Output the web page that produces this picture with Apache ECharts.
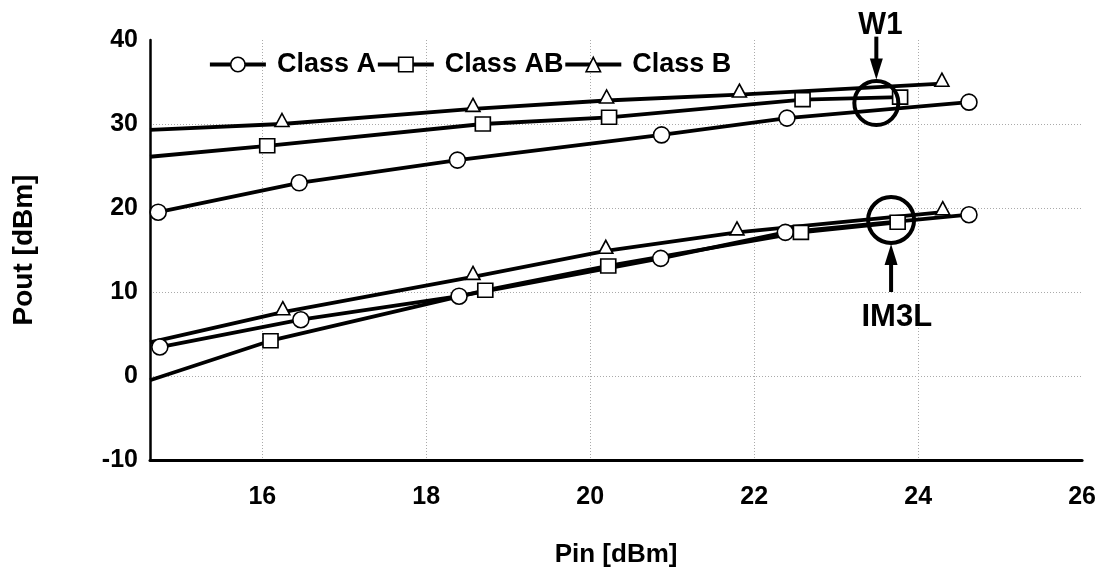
<!DOCTYPE html>
<html>
<head>
<meta charset="utf-8">
<script src="https://cdn.jsdelivr.net/npm/echarts@6/dist/echarts.min.js"></script>
<style>
html,body{margin:0;padding:0;background:#fff;}
#chart{width:1099px;height:573px;}
</style>
</head>
<body>
<div id="chart"></div>
<script>
// ---- data ----
var seriesNames = ['Class A', 'Class AB', 'Class B'];
var xTicks = [16, 18, 20, 22, 24, 26];
var yTicks = [-10, 0, 10, 20, 30, 40];
var xMin = 14.63, xMax = 26, yMin = -10, yMax = 40;

// upper curves (W1)
var pinA_W1  = [14.73, 16.45, 18.38, 20.87, 22.40, 24.62];
var poutA_W1 = [19.5, 23.0, 25.7, 28.7, 30.7, 32.6];
var pinAB_W1  = [14.63, 16.06, 18.69, 20.23, 22.59, 23.78];
var poutAB_W1 = [26.1, 27.4, 30.0, 30.8, 32.9, 33.2];
var pinB_W1  = [14.63, 16.24, 18.57, 20.20, 21.82, 24.29];
var poutB_W1 = [29.3, 30.0, 31.8, 32.8, 33.5, 34.8];

// lower curves (IM3L)
var pinA_IM  = [14.75, 16.47, 18.40, 20.86, 22.38, 24.62];
var poutA_IM = [3.45, 6.7, 9.5, 14.0, 17.1, 19.2];
var pinAB_IM  = [14.63, 16.10, 18.72, 20.22, 22.57, 23.75];
var poutAB_IM = [-0.5, 4.2, 10.2, 13.1, 17.1, 18.3];
var pinB_IM  = [14.63, 16.25, 18.57, 20.19, 21.79, 24.30];
var poutB_IM = [4.0, 7.6, 11.8, 14.9, 17.1, 19.5];

// points drawn without a marker (line start at axis edge)
var noMarker = { 'AB_W1': [0], 'B_W1': [0], 'AB_IM': [0], 'B_IM': [0] };

// annotations (data coordinates)
var w1Circle = [23.49, 32.5];
var w1Label = [23.54, 41.8];
var w1Arrow = [[23.49, 40.4], [23.49, 35.3]];
var imCircle = [23.67, 18.57];
var imLabel = [23.74, 7.0];
var imArrow = [[23.67, 10.0], [23.67, 15.7]];

function pts(xs, ys, key) {
  var skip = noMarker[key] || [];
  return xs.map(function (x, i) {
    var item = { value: [x, ys[i]] };
    if (skip.indexOf(i) >= 0) item.symbol = 'none';
    return item;
  });
}

var FONT = '"Liberation Sans", Arial, sans-serif';

function lineSeries(name, data, symbol, offset) {
  return {
    type: 'line',
    name: name,
    data: data,
    symbol: symbol,
    symbolSize: symbol === 'triangle' ? [14, 13] : (symbol === 'rect' ? [15, 14] : 16),
    symbolOffset: offset || [0, 0],
    showAllSymbol: true,
    lineStyle: { color: '#000', width: 3.8 },
    itemStyle: { color: '#fff', borderColor: '#000', borderWidth: 1.6 },
    emphasis: { disabled: true },
    z: 3
  };
}

var chart = echarts.init(document.getElementById('chart'), null, { renderer: 'canvas' });

var gridLine = { show: true, showMinLine: false, showMaxLine: false, lineStyle: { color: '#aaaaaa', type: [1, 2], width: 1 } };

var option = {
  animation: false,
  backgroundColor: '#fff',
  grid: { left: 150, right: 11, top: 40, bottom: 113, containLabel: false },
  legend: {
    data: seriesNames,
    left: 203,
    top: 46,
    itemWidth: 56,
    itemHeight: 18,
    itemGap: 0,
    lineStyle: { width: 3.8, color: '#000' },
    itemStyle: { color: '#fff', borderColor: '#000', borderWidth: 1.6 },
    textStyle: { fontFamily: FONT, fontWeight: 'bold', fontSize: 27, color: '#000', padding: [0, 0, 0, 6] },
    selectedMode: false
  },
  xAxis: {
    type: 'value',
    min: xMin,
    max: xMax,
    splitNumber: 5,
    name: 'Pin [dBm]',
    nameLocation: 'middle',
    nameGap: 82,
    nameTextStyle: { fontFamily: FONT, fontWeight: 'bold', fontSize: 26, color: '#000' },
    axisLine: { show: true, onZero: false, lineStyle: { color: '#000', width: 3 } },
    axisTick: { show: false },
    axisLabel: {
      showMinLabel: false,
      margin: 25,
      fontFamily: FONT, fontWeight: 'bold', fontSize: 25, color: '#000',
      formatter: function (v) { return xTicks.indexOf(Math.round(v * 1000) / 1000) >= 0 ? String(Math.round(v)) : ''; }
    },
    splitLine: gridLine
  },
  yAxis: {
    type: 'value',
    min: yMin,
    max: yMax,
    interval: 10,
    name: 'Pout [dBm]',
    nameLocation: 'middle',
    nameRotate: 90,
    nameGap: 112,
    nameTextStyle: { fontFamily: FONT, fontWeight: 'bold', fontSize: 28, color: '#000' },
    axisLine: { show: true, onZero: false, lineStyle: { color: '#000', width: 2.5 } },
    axisTick: { show: false },
    axisLabel: {
      margin: 12,
      fontFamily: FONT, fontWeight: 'bold', fontSize: 25, color: '#000',
      formatter: function (v) { return yTicks.indexOf(v) >= 0 ? String(v) : ''; }
    },
    splitLine: gridLine
  },
  series: [
    lineSeries('Class A', pts(pinA_W1, poutA_W1, 'A_W1'), 'circle'),
    lineSeries('Class AB', pts(pinAB_W1, poutAB_W1, 'AB_W1'), 'rect'),
    lineSeries('Class B', pts(pinB_W1, poutB_W1, 'B_W1'), 'triangle', [0, -4]),
    lineSeries('Class A', pts(pinA_IM, poutA_IM, 'A_IM'), 'circle'),
    lineSeries('Class AB', pts(pinAB_IM, poutAB_IM, 'AB_IM'), 'rect'),
    lineSeries('Class B', pts(pinB_IM, poutB_IM, 'B_IM'), 'triangle', [0, -4])
  ]
};
chart.setOption(option);

// annotations positioned through the chart's own coordinate conversion
function px(c) { return chart.convertToPixel({ gridIndex: 0 }, c); }
function ringEl(c, r) {
  var p = px(c);
  return { type: 'circle', shape: { cx: p[0], cy: p[1], r: r }, style: { fill: null, stroke: '#000', lineWidth: 4 }, z: 100 };
}
function textEl(c, txt, size, sx) {
  var p = px(c);
  return { type: 'text', x: p[0], y: p[1], scaleX: sx || 1, style: { text: txt, fill: '#000', font: 'bold ' + size + 'px ' + FONT, align: 'center', verticalAlign: 'middle' }, z: 100 };
}
function arrowEls(a) {
  var p0 = px(a[0]), p1 = px(a[1]);
  var dir = p1[1] > p0[1] ? 1 : -1;
  var headLen = 21, headHalf = 6.5;
  return [
    { type: 'line', shape: { x1: p0[0], y1: p0[1], x2: p1[0], y2: p1[1] - dir * headLen + dir * 2 }, style: { stroke: '#000', lineWidth: 4 }, z: 100 },
    { type: 'polygon', shape: { points: [[p1[0], p1[1]], [p1[0] - headHalf, p1[1] - dir * headLen], [p1[0] + headHalf, p1[1] - dir * headLen]] }, style: { fill: '#000' }, z: 100 }
  ];
}
var els = [
  ringEl(w1Circle, 22),
  ringEl(imCircle, 23),
  textEl(w1Label, 'W1', 32, 0.92),
  textEl(imLabel, 'IM3L', 32, 0.97)
].concat(arrowEls(w1Arrow)).concat(arrowEls(imArrow));
chart.setOption({ graphic: { elements: els } });
</script>
</body>
</html>
